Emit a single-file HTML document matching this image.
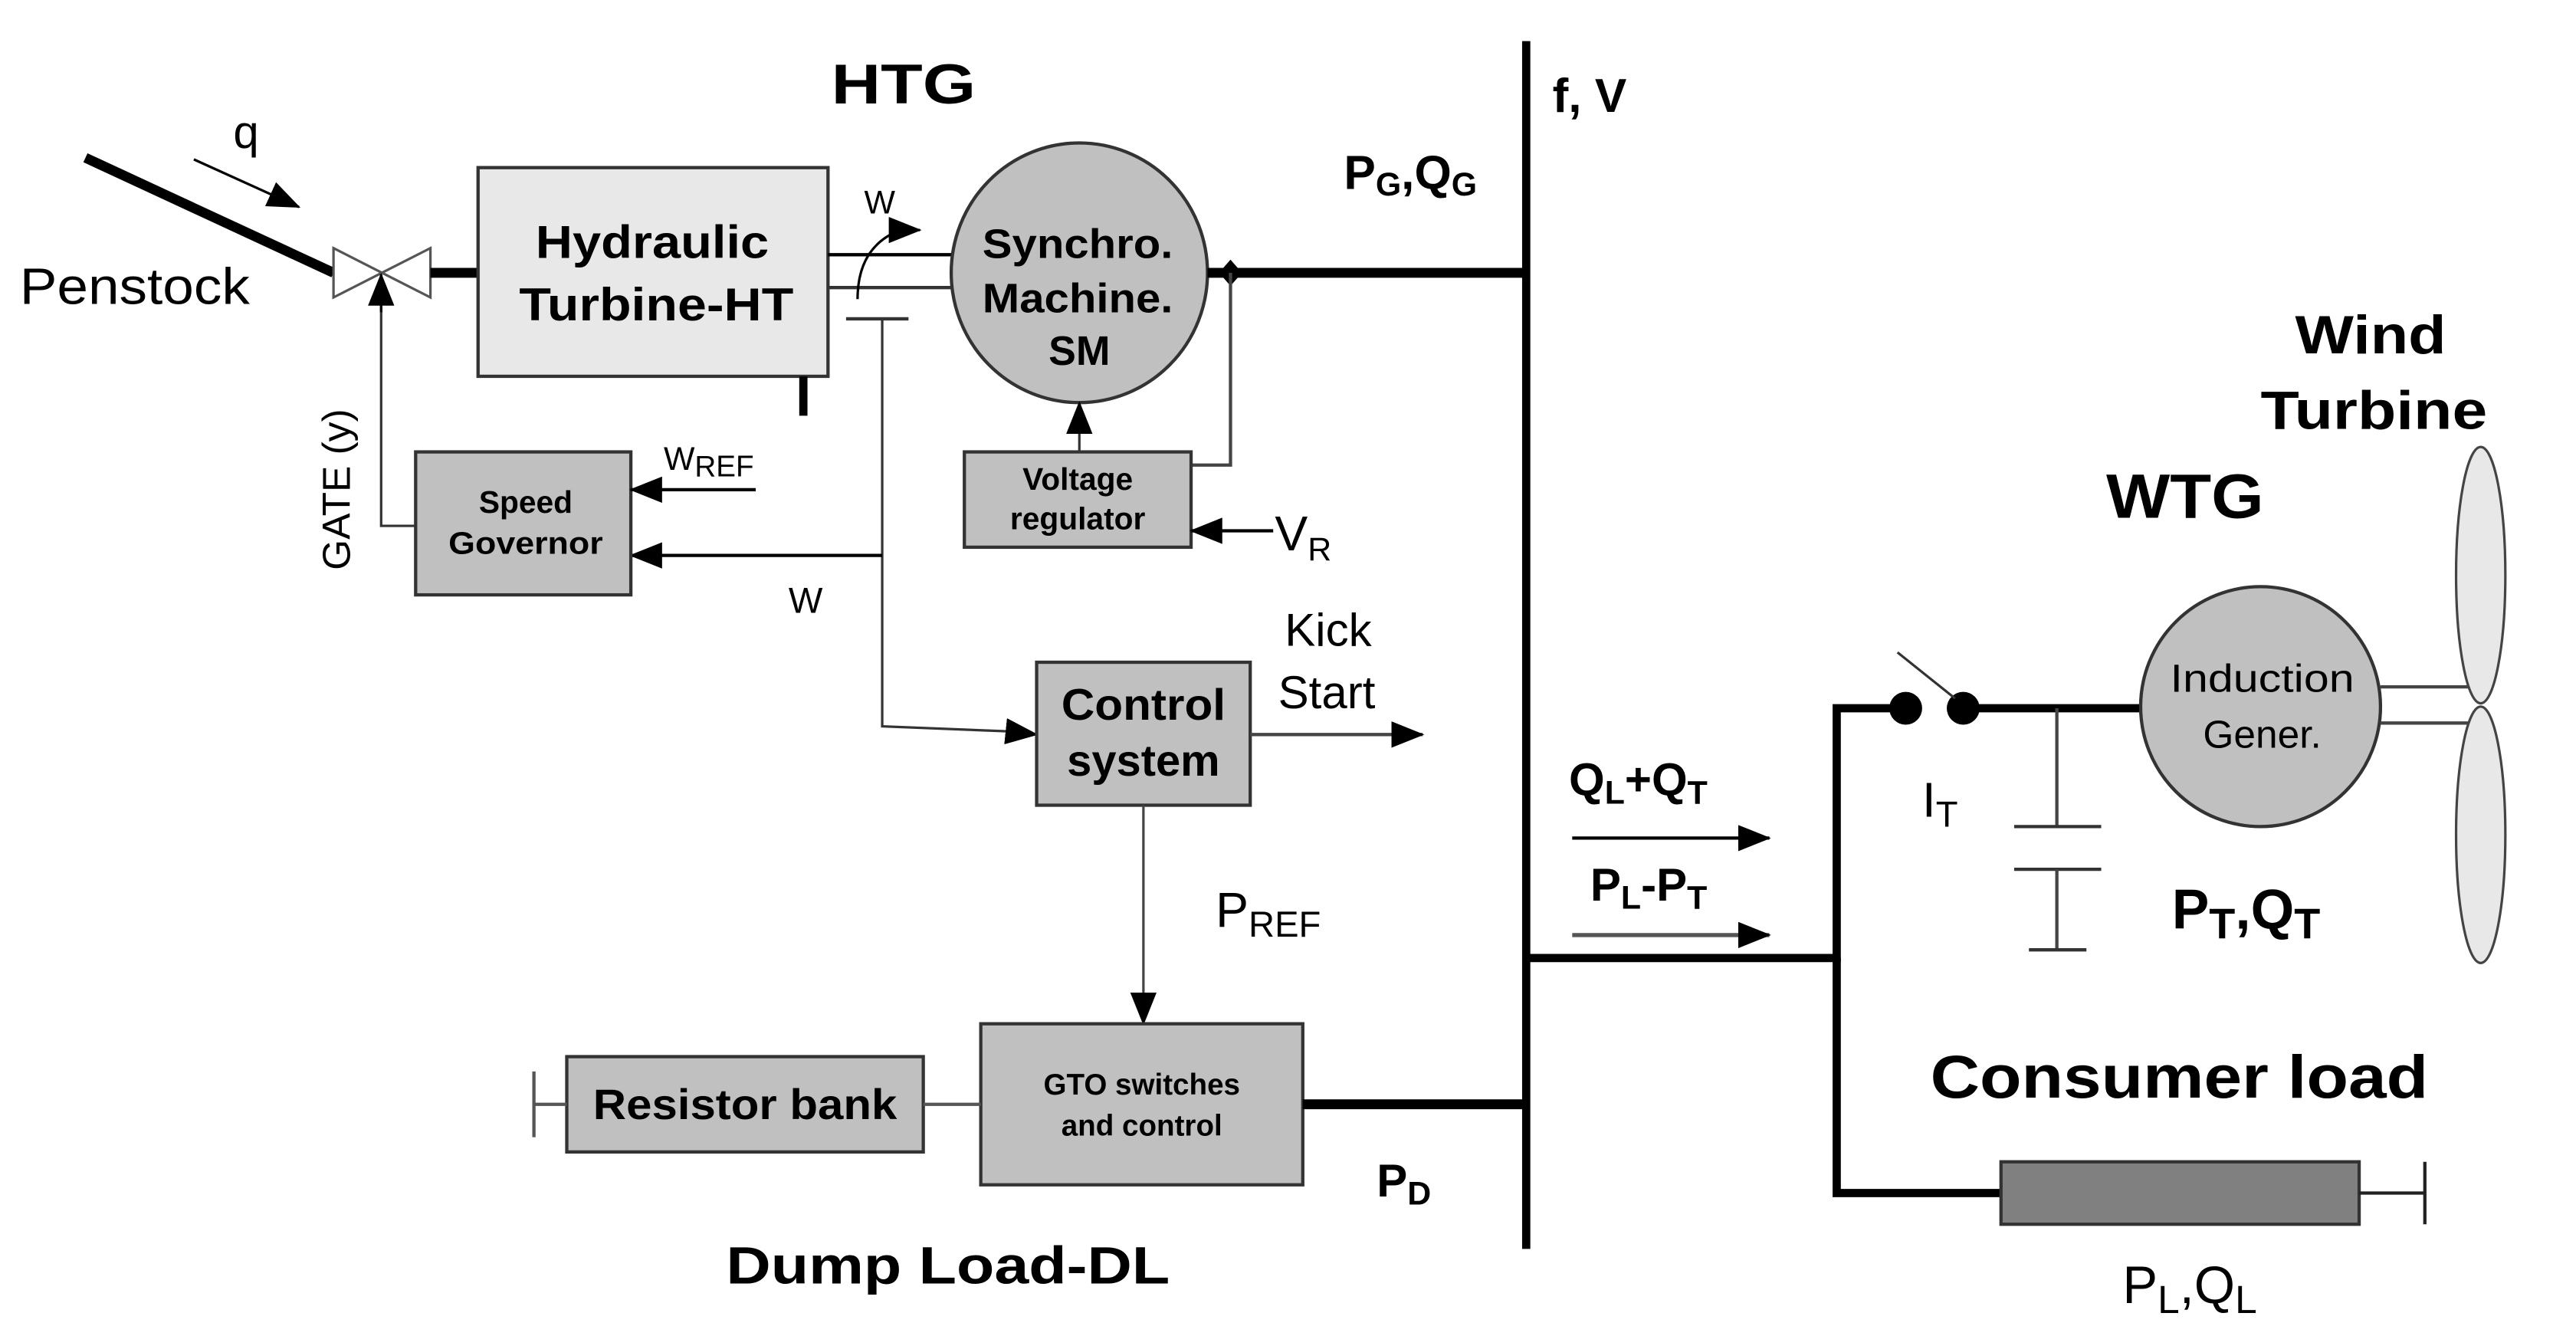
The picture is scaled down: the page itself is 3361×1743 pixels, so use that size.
<!DOCTYPE html>
<html><head><meta charset="utf-8"><style>
html,body{margin:0;padding:0;background:#fff;}
svg{display:block;}
text{font-family:"Liberation Sans",Arial,sans-serif;fill:#000;}
.b{font-weight:bold;}
</style></head><body>
<svg width="3361" height="1743" viewBox="0 0 1568 813" preserveAspectRatio="none" xmlns="http://www.w3.org/2000/svg">
<defs>
<marker id="ahL" markerWidth="20" markerHeight="16" refX="19" refY="8" orient="auto" markerUnits="userSpaceOnUse" viewBox="0 0 20 16"><path d="M0,0 L20,8 L0,16 z" fill="#000"/></marker>
</defs>
<line x1="929" y1="25" x2="929" y2="760" stroke="#000" stroke-width="5"/>
<text x="506" y="63" class="b" font-size="34" textLength="88" lengthAdjust="spacingAndGlyphs">HTG</text>
<text x="945" y="68" class="b" font-size="29">f, V</text>
<text x="818" y="115" class="b" font-size="29">P<tspan font-size="20" dy="4">G</tspan><tspan dy="-4">,Q</tspan><tspan font-size="20" dy="4">G</tspan></text>
<line x1="52" y1="96" x2="203" y2="166" stroke="#000" stroke-width="6"/>
<line x1="118" y1="97" x2="182" y2="126" stroke="#000" stroke-width="1.5" marker-end="url(#ahL)"/>
<text x="142" y="90" font-size="28">q</text>
<text x="12" y="185" font-size="31" textLength="140" lengthAdjust="spacingAndGlyphs">Penstock</text>
<path d="M203,151 L262,181 L262,151 L203,181 z" fill="#fff" stroke="#555" stroke-width="1.5"/>
<line x1="262" y1="166" x2="291" y2="166" stroke="#000" stroke-width="6"/>
<rect x="291" y="102" width="213" height="127" fill="#e8e8e8" stroke="#333" stroke-width="2"/>
<text x="326" y="157" class="b" font-size="28" textLength="142" lengthAdjust="spacingAndGlyphs">Hydraulic</text>
<text x="316" y="195" class="b" font-size="28" textLength="167" lengthAdjust="spacingAndGlyphs">Turbine-HT</text>
<line x1="489" y1="229" x2="489" y2="253" stroke="#000" stroke-width="5"/>
<line x1="504" y1="155" x2="580" y2="155" stroke="#000" stroke-width="2"/>
<line x1="504" y1="175" x2="580" y2="175" stroke="#333" stroke-width="2"/>
<path d="M522,182 Q522,150 548,140" fill="none" stroke="#000" stroke-width="1.5"/>
<path d="M548,140 l12,0" stroke="#000" stroke-width="1.5" marker-end="url(#ahL)"/>
<text x="526" y="130" font-size="20">W</text>
<line x1="515" y1="194" x2="553" y2="194" stroke="#333" stroke-width="2"/>
<polyline points="537,194 537,442 612,445" fill="none" stroke="#333" stroke-width="1.5"/>
<line x1="612" y1="445" x2="631" y2="447" stroke="#000" stroke-width="1.5" marker-end="url(#ahL)"/>
<line x1="537" y1="338" x2="384" y2="338" stroke="#000" stroke-width="2" marker-end="url(#ahL)"/>
<ellipse cx="657" cy="166" rx="78" ry="79" fill="#c0c0c0" stroke="#333" stroke-width="2"/>
<text x="598" y="157" class="b" font-size="25" textLength="116" lengthAdjust="spacingAndGlyphs">Synchro.</text>
<text x="598" y="190" class="b" font-size="25" textLength="116" lengthAdjust="spacingAndGlyphs">Machine.</text>
<text x="657" y="222" class="b" font-size="25" text-anchor="middle">SM</text>
<line x1="735" y1="166" x2="929" y2="166" stroke="#000" stroke-width="6"/>
<path d="M749,158 L756,166 L749,174 L742,166 z" fill="#000"/>
<polyline points="749,166 749,283 725,283" fill="none" stroke="#444" stroke-width="2"/>
<rect x="587" y="275" width="138" height="58" fill="#c0c0c0" stroke="#333" stroke-width="2"/>
<text x="656" y="298" class="b" font-size="19" text-anchor="middle">Voltage</text>
<text x="656" y="322" class="b" font-size="19" text-anchor="middle">regulator</text>
<line x1="657" y1="275" x2="657" y2="245" stroke="#333" stroke-width="1.5" marker-end="url(#ahL)"/>
<line x1="775" y1="323" x2="725" y2="323" stroke="#000" stroke-width="2" marker-end="url(#ahL)"/>
<text x="776" y="335" font-size="30">V<tspan font-size="20" dy="6">R</tspan></text>
<rect x="253" y="275" width="131" height="87" fill="#c0c0c0" stroke="#333" stroke-width="2"/>
<text x="320" y="312" class="b" font-size="19" text-anchor="middle">Speed</text>
<text x="273" y="337" class="b" font-size="19" textLength="94" lengthAdjust="spacingAndGlyphs">Governor</text>
<line x1="460" y1="298" x2="384" y2="298" stroke="#000" stroke-width="2" marker-end="url(#ahL)"/>
<text x="404" y="286" font-size="20">W<tspan font-size="18" dy="4">REF</tspan></text>
<polyline points="253,320 232,320 232,185" fill="none" stroke="#333" stroke-width="1.5"/>
<line x1="232" y1="190" x2="232" y2="167" stroke="#000" stroke-width="1.5" marker-end="url(#ahL)"/>
<text transform="translate(213,347) rotate(-90)" font-size="24">GATE (y)</text>
<text x="480" y="373" font-size="22">W</text>
<rect x="631" y="403" width="130" height="87" fill="#c0c0c0" stroke="#333" stroke-width="2"/>
<text x="646" y="438" class="b" font-size="27" textLength="100" lengthAdjust="spacingAndGlyphs">Control</text>
<text x="696" y="472" class="b" font-size="27" text-anchor="middle">system</text>
<line x1="761" y1="447" x2="866" y2="447" stroke="#444" stroke-width="2" marker-end="url(#ahL)"/>
<text x="782" y="393" font-size="28">Kick</text>
<text x="778" y="431" font-size="28">Start</text>
<line x1="696" y1="490" x2="696" y2="623" stroke="#444" stroke-width="1.5" marker-end="url(#ahL)"/>
<text x="740" y="564" font-size="30">P<tspan font-size="22" dy="6">REF</tspan></text>
<rect x="597" y="623" width="196" height="98" fill="#c0c0c0" stroke="#333" stroke-width="2"/>
<text x="695" y="666" class="b" font-size="18" text-anchor="middle">GTO switches</text>
<text x="695" y="691" class="b" font-size="18" text-anchor="middle">and control</text>
<line x1="793" y1="672" x2="929" y2="672" stroke="#000" stroke-width="6"/>
<text x="838" y="728" class="b" font-size="28">P<tspan font-size="20" dy="5">D</tspan></text>
<rect x="345" y="643" width="217" height="58" fill="#c0c0c0" stroke="#333" stroke-width="2"/>
<text x="361" y="681" class="b" font-size="26" textLength="185" lengthAdjust="spacingAndGlyphs">Resistor bank</text>
<line x1="562" y1="672" x2="597" y2="672" stroke="#555" stroke-width="2"/>
<line x1="325" y1="672" x2="345" y2="672" stroke="#555" stroke-width="2"/>
<line x1="325" y1="652" x2="325" y2="692" stroke="#555" stroke-width="2"/>
<text x="442" y="781" class="b" font-size="32" textLength="270" lengthAdjust="spacingAndGlyphs">Dump Load-DL</text>
<polyline points="929,583 1118,583 1118,431 1160,431" fill="none" stroke="#000" stroke-width="5"/>
<polyline points="1118,583 1118,726 1218,726" fill="none" stroke="#000" stroke-width="5"/>
<circle cx="1160" cy="431" r="10" fill="#000"/>
<circle cx="1195" cy="431" r="10" fill="#000"/>
<line x1="1155" y1="397" x2="1190" y2="425" stroke="#333" stroke-width="1.5"/>
<line x1="1195" y1="431" x2="1305" y2="431" stroke="#000" stroke-width="5"/>
<text x="1170" y="497" font-size="30">I<tspan font-size="22" dy="6">T</tspan></text>
<line x1="1252" y1="431" x2="1252" y2="503" stroke="#444" stroke-width="2"/>
<line x1="1226" y1="503" x2="1279" y2="503" stroke="#333" stroke-width="2"/>
<line x1="1226" y1="529" x2="1279" y2="529" stroke="#333" stroke-width="2"/>
<line x1="1252" y1="529" x2="1252" y2="578" stroke="#444" stroke-width="2"/>
<line x1="1235" y1="578" x2="1270" y2="578" stroke="#333" stroke-width="2"/>
<circle cx="1376" cy="430" r="73" fill="#c0c0c0" stroke="#333" stroke-width="2"/>
<text x="1321" y="421" font-size="24" textLength="112" lengthAdjust="spacingAndGlyphs" fill="#222">Induction</text>
<text x="1377" y="455" font-size="24" text-anchor="middle" fill="#222">Gener.</text>
<line x1="1449" y1="418" x2="1510" y2="418" stroke="#444" stroke-width="2"/>
<line x1="1449" y1="440" x2="1510" y2="440" stroke="#444" stroke-width="2"/>
<ellipse cx="1510" cy="350" rx="15" ry="78" fill="#e8e8e8" stroke="#444" stroke-width="1.5"/>
<ellipse cx="1510" cy="508" rx="15" ry="78" fill="#e8e8e8" stroke="#444" stroke-width="1.5"/>
<text x="1397" y="215" class="b" font-size="33" textLength="92" lengthAdjust="spacingAndGlyphs">Wind</text>
<text x="1376" y="261" class="b" font-size="33" textLength="138" lengthAdjust="spacingAndGlyphs">Turbine</text>
<text x="1282" y="315" class="b" font-size="38" textLength="96" lengthAdjust="spacingAndGlyphs">WTG</text>
<text x="1322" y="565" class="b" font-size="34">P<tspan font-size="26" dy="6">T</tspan><tspan dy="-6">,Q</tspan><tspan font-size="26" dy="6">T</tspan></text>
<text x="955" y="484" class="b" font-size="28">Q<tspan font-size="20" dy="5">L</tspan><tspan dy="-5">+Q</tspan><tspan font-size="20" dy="5">T</tspan></text>
<line x1="957" y1="510" x2="1077" y2="510" stroke="#000" stroke-width="2" marker-end="url(#ahL)"/>
<text x="968" y="548" class="b" font-size="28">P<tspan font-size="20" dy="5">L</tspan><tspan dy="-5">-P</tspan><tspan font-size="20" dy="5">T</tspan></text>
<line x1="957" y1="569" x2="1077" y2="569" stroke="#555" stroke-width="2.5" marker-end="url(#ahL)"/>
<text x="1175" y="668" class="b" font-size="37" textLength="303" lengthAdjust="spacingAndGlyphs">Consumer load</text>
<rect x="1218" y="707" width="218" height="38" fill="#808080" stroke="#333" stroke-width="2"/>
<line x1="1436" y1="726" x2="1476" y2="726" stroke="#222" stroke-width="2"/>
<line x1="1476" y1="707" x2="1476" y2="745" stroke="#222" stroke-width="2"/>
<text x="1292" y="793" font-size="32">P<tspan font-size="24" dy="6">L</tspan><tspan dy="-6">,Q</tspan><tspan font-size="24" dy="6">L</tspan></text>
</svg>
</body></html>
